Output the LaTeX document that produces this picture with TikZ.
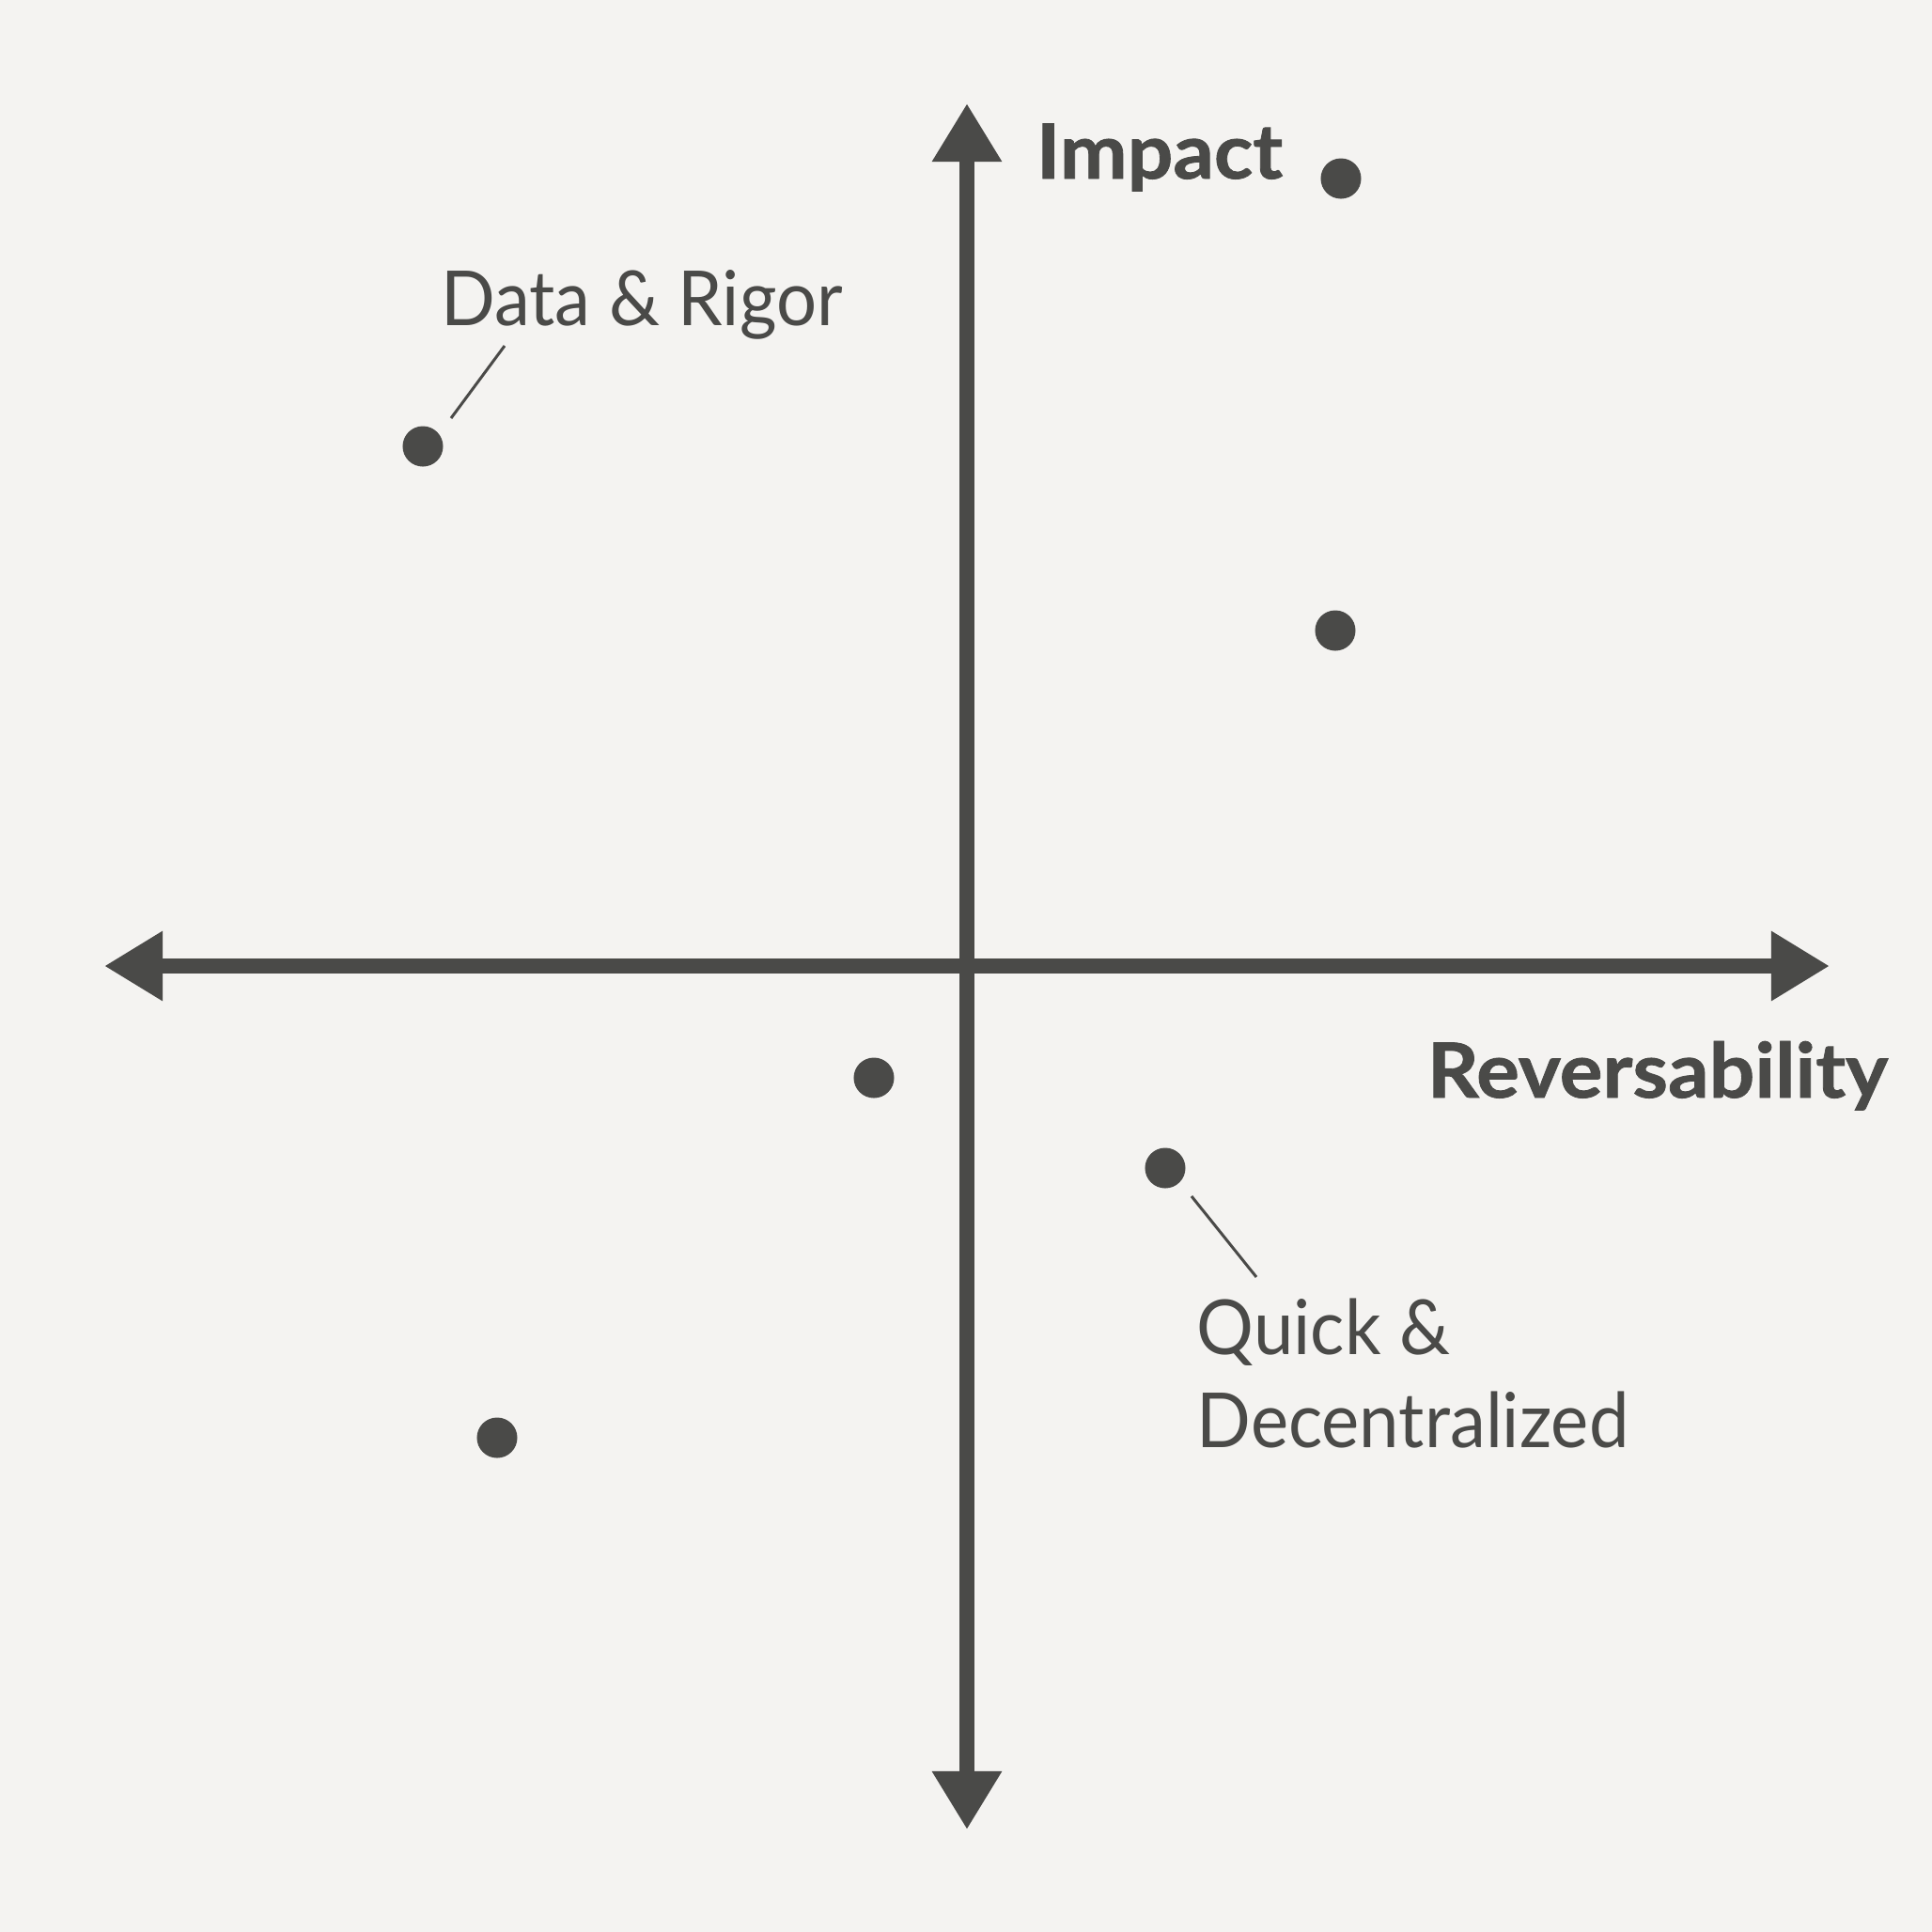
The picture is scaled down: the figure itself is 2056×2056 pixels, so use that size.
\documentclass[tikz,border=0pt]{standalone}
\usepackage{fontspec}
\setmainfont{Lato}
\newfontfamily\tagfont[FakeStretch=0.94]{Lato}
\newfontfamily\axisfont[FakeStretch=1.06, FakeBold=1]{Lato}
\usetikzlibrary{arrows.meta}
\definecolor{ink}{HTML}{4A4A48}
\definecolor{paper}{HTML}{F4F3F1}

\begin{document}
\begin{tikzpicture}[x=0.01cm, y=-0.01cm,
  axis/.style={draw=ink, line width=0.16cm,
    {Triangle[length=0.62cm, width=0.70cm]}-{Triangle[length=0.62cm, width=0.70cm]}},
  dot/.style={circle, fill=ink, minimum size=0.43cm, inner sep=0pt},
  lead/.style={draw=ink, line width=0.03cm},
  axislabel/.style={text=ink, font=\axisfont\fontsize{23}{28}\selectfont\bfseries, inner sep=0pt},
  tag/.style={text=ink, font=\tagfont\fontsize{23}{28.1}\selectfont, inner sep=0pt, align=left}
]
\fill[paper] (0,0) rectangle (2056,2056);
\useasboundingbox (0,0) rectangle (2056,2056);
\coordinate (west) at (111,1028);
\coordinate (east) at (1947,1028);
\coordinate (north) at (1029,110);
\coordinate (south) at (1029,1947);
\draw[axis] (west) -- (east);
\draw[axis] (south) -- (north);
\node[axislabel, anchor=base] (impact) at (1234,190) {Impact};
\node[axislabel, anchor=base] (revers) at (1764,1168) {Reversability};
\node[dot] (topdot) at (1427,190) {};
\node[dot] (rigordot) at (450,475) {};
\node[dot] (highdot) at (1421,671) {};
\node[dot] (centredot) at (930,1147) {};
\node[dot] (quickdot) at (1240,1243) {};
\node[dot] (lowdot) at (529,1530) {};
\node[tag, anchor=base] (rigor) at (683,346) {Data \& Rigor};
\node[tag, anchor=north west] (quick) at (1273,1381) {Quick \&\\Decentralized};
\coordinate (rigorA) at (480,445);
\coordinate (rigorB) at (537,368);
\coordinate (quickA) at (1268,1273);
\coordinate (quickB) at (1337,1359);
\draw[lead] (rigorA) -- (rigorB);
\draw[lead] (quickA) -- (quickB);
\end{tikzpicture}
\end{document}
